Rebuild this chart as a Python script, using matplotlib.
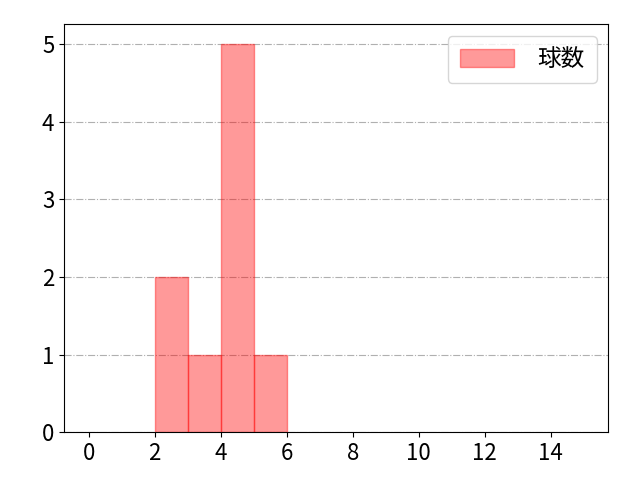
import numpy as np
import matplotlib.pyplot as plt

plt.rcParams['font.family'] = ['Noto Sans CJK JP', 'DejaVu Sans']

# Histogram bins and counts
bin_edges = [2, 3, 4, 5, 6]
counts = [2, 1, 5, 1]
label = "球数"

fig, ax = plt.subplots(figsize=(6.4, 4.8), dpi=100)
fig.subplots_adjust(left=0.1, right=0.9505, top=0.949, bottom=0.0994)
ax.bar(bin_edges[:-1], counts, width=1, align='edge',
       color='#ff0000', alpha=0.4, edgecolor='#ff0000', linewidth=1, label=label)

ax.set_xlim(-0.75, 15.75)
ax.set_ylim(0, 5.25)
ax.set_xticks(np.arange(0, 16, 2))
ax.set_yticks(range(0, 6))
ax.tick_params(labelsize=16)
ax.grid(axis='y', linestyle='-.', color='#b0b0b0', linewidth=0.8)
ax.set_axisbelow(True)
ax.legend(fontsize=17, handlelength=2.3, handleheight=0.8, handletextpad=1.0,
          borderpad=0.5, loc='upper right')

plt.savefig("out.png")
